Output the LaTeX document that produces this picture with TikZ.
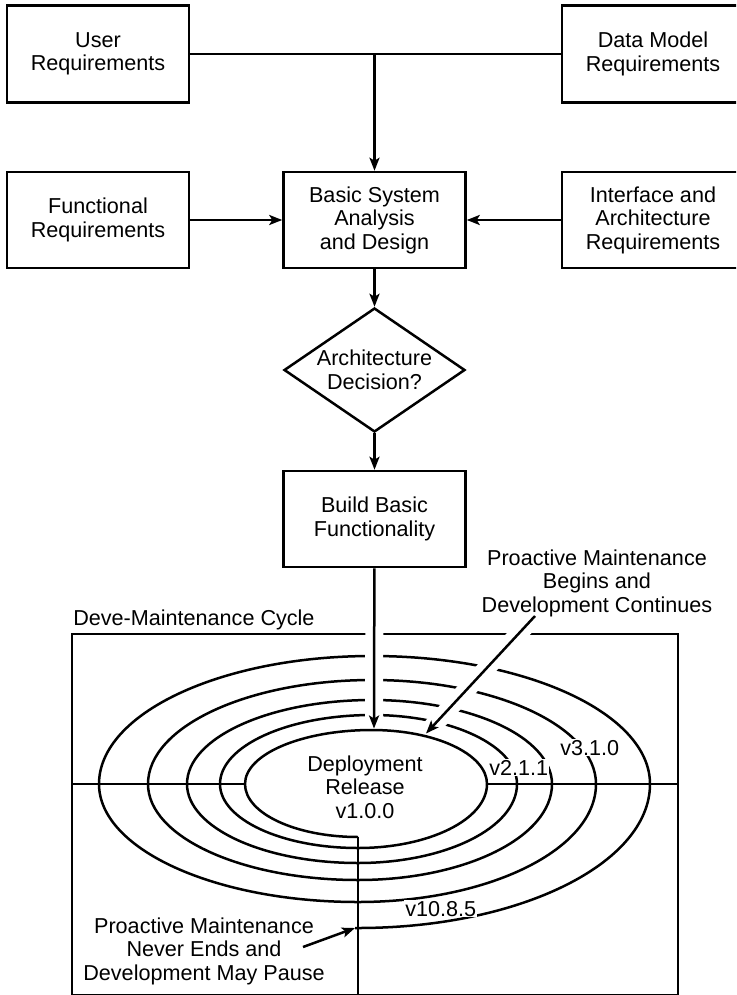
\documentclass[tikz,border=0pt]{standalone}
\usepackage{fontspec}
\setmainfont{Liberation Sans}
\usetikzlibrary{arrows.meta,shapes.geometric,calc}

\begin{document}
\begin{tikzpicture}[x=1pt,y=1pt,
  line width=2.5pt,
  txt/.style={font=\fontsize{21.6}{23.5}\selectfont, align=center, inner sep=0pt},
  box/.style={txt, draw, rectangle, minimum width=182pt, minimum height=96pt},
  decisionbox/.style={txt, draw, diamond, aspect=1.46, minimum width=181pt, minimum height=124pt},
  arr/.style={-{Stealth[length=13pt,width=10pt,inset=3pt]}},
  halo/.style={draw=white, line width=18pt},
  tag/.style={txt, fill=white, inner sep=1pt}
]
\path[use as bounding box, clip] (0,0) rectangle (736,-995);

% requirement sources and the early design stages
\node[box, minimum height=97pt] (user) at (98,-54) {User\\Requirements};
\node[box, minimum height=97pt] (datamodel) at (653,-54) {Data Model\\Requirements};
\node[box] (functional) at (98,-220) {Functional\\Requirements};
\node[box] (basic) at (374.5,-220) {Basic System\\Analysis\\and Design};
\node[box] (iface) at (653,-220) {Interface and\\Architecture\\Requirements};
\node[decisionbox] (decision) at (374.5,-370) {Architecture\\Decision?};
\node[box] (build) at (374.5,-519) {Build Basic\\Functionality};

\draw (user.east) -- (datamodel.west);
\draw[arr] (user.east -| basic.north) -- (basic.north);
\draw[arr] (functional) -- (basic);
\draw[arr] (iface) -- (basic);
\draw[arr] (basic) -- (decision);
\draw[arr] (decision) -- (build);

% the development / maintenance cycle frame
\coordinate (cycnw) at (72,-634);
\coordinate (cycse) at (678,-995);
\draw (cycnw) rectangle (cycse);
\node[txt, anchor=base west] (cyclelabel) at (72,-625) {Deve-Maintenance Cycle};

% release spiral, built from quarter ellipses, five turns outward
\coordinate (spiralstart) at (358,-837);
\draw (spiralstart)
  arc[start angle=270,end angle=180,x radius=113,y radius=53]
  arc[start angle=180,end angle=90, x radius=127,y radius=54]
  arc[start angle=90, end angle=0,  x radius=115,y radius=54]
  arc[start angle=0,  end angle=-90,x radius=129,y radius=64]
  arc[start angle=270,end angle=180,x radius=138,y radius=64]
  arc[start angle=180,end angle=90, x radius=152,y radius=69]
  arc[start angle=90, end angle=0,  x radius=145,y radius=69]
  arc[start angle=0,  end angle=-90,x radius=159,y radius=79]
  arc[start angle=270,end angle=180,x radius=171,y radius=79]
  arc[start angle=180,end angle=90, x radius=185,y radius=84]
  arc[start angle=90, end angle=0,  x radius=180,y radius=84]
  arc[start angle=0,  end angle=-90,x radius=194,y radius=96]
  arc[start angle=270,end angle=180,x radius=210,y radius=96]
  arc[start angle=180,end angle=90, x radius=224,y radius=104]
  arc[start angle=90, end angle=0,  x radius=224,y radius=104]
  arc[start angle=0,  end angle=-90,x radius=238,y radius=118]
  arc[start angle=270,end angle=180,x radius=259,y radius=118]
  arc[start angle=180,end angle=90, x radius=273,y radius=128]
  arc[start angle=90, end angle=0,  x radius=278,y radius=128]
  arc[start angle=0,  end angle=-90,x radius=292,y radius=144]
  -- ++(-3,0) coordinate (spiralend);

% axes through the cycle
\coordinate (innerleft) at (245,-784);
\coordinate (innerright) at (487,-784);
\draw (cycnw |- innerleft) -- (innerleft);
\draw (innerright) -- (cycse |- innerright);
\draw (spiralstart) -- (spiralstart |- cycse);

% entry arrows into the spiral, cut through the outer turns
\coordinate (ringtop) at (374,-728.5);
\coordinate (dstart) at (535,-616);
\coordinate (dend) at (426,-733.5);
\draw[halo] ($(build.south)!0.2!(ringtop)$) -- ($(build.south)!0.95!(ringtop)$);
\draw[halo] ($(dstart)!0.06!(dend)$) -- ($(dstart)!0.95!(dend)$);
\draw[arr] (build) -- (ringtop);
\draw[arr] (dstart) -- (dend);

% labels on the spiral
\node[txt, anchor=north] (release) at (365,-754.5) {Deployment\\Release\\v1.0.0};
\node[tag, anchor=base west] (v211) at (487,-775) {v2.1.1};
\node[tag, anchor=base west] (v310) at (558,-755) {v3.1.0};
\node[tag, anchor=base west] (v1085) at (403,-916) {v10.8.5};

\node[txt, anchor=north] (begins) at (597,-548.5) {Proactive Maintenance\\Begins and\\Development Continues};
\node[txt, anchor=north] (neverends) at (204,-916.5) {Proactive Maintenance\\Never Ends and\\Development May Pause};
\coordinate (pstart) at (303,-947);
\draw[arr] (pstart) -- (spiralend);
\end{tikzpicture}
\end{document}
